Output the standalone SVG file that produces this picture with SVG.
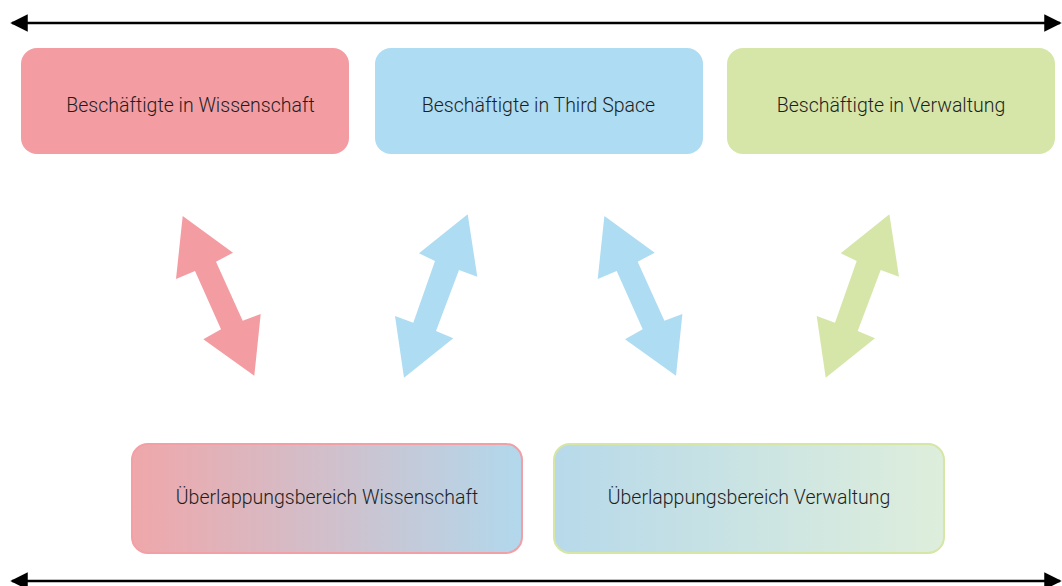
<svg xmlns="http://www.w3.org/2000/svg" width="1062" height="586" viewBox="0 0 1062 586">
<style>
.lbl{font-family:Roboto,"Liberation Sans",sans-serif;font-weight:300;font-size:19.5px;fill:#1e1e1e;text-anchor:middle;dominant-baseline:central}
.axis{stroke:#000;stroke-width:2.5;fill:none}
.pink{fill:#F39DA3}
.blue{fill:#AEDCF2}
.green{fill:#D6E6A8}
</style>
<defs>
<marker id="ah" viewBox="0 0 10 10" refX="9" refY="5" markerWidth="7" markerHeight="7.6" markerUnits="strokeWidth" orient="auto-start-reverse">
<path d="M0,0 L10,5 L0,10 Z" fill="#000"/>
</marker>
<linearGradient id="gW" x1="0" y1="0" x2="1" y2="0">
<stop offset="0" stop-color="#EFA7AA"/>
<stop offset="1" stop-color="#B2D8EC"/>
</linearGradient>
<linearGradient id="gV" x1="0" y1="0" x2="1" y2="0">
<stop offset="0" stop-color="#B7D9EA"/>
<stop offset="1" stop-color="#DEEEDC"/>
</linearGradient>
</defs>
<g id="axes">
<line class="axis" x1="12" y1="23" x2="1060" y2="23" marker-start="url(#ah)" marker-end="url(#ah)"/>
<line class="axis" x1="12" y1="581" x2="1060" y2="581" marker-start="url(#ah)" marker-end="url(#ah)"/>
</g>
<g id="node-wissenschaft">
<rect class="pink" x="21" y="48" width="328" height="106" rx="16"/>
<text class="lbl" x="190.5" y="105">Beschäftigte in Wissenschaft</text>
</g>
<g id="node-thirdspace">
<rect class="blue" x="375" y="48" width="328" height="106" rx="16"/>
<text class="lbl" x="538.5" y="105">Beschäftigte in Third Space</text>
</g>
<g id="node-verwaltung">
<rect class="green" x="727" y="48" width="328" height="106" rx="16"/>
<text class="lbl" x="891" y="105">Beschäftigte in Verwaltung</text>
</g>
<g id="node-ueb-wissenschaft">
<rect x="132" y="444" width="390" height="109" rx="16" fill="url(#gW)" stroke="#F29FA5" stroke-width="2"/>
<text class="lbl" x="327" y="497">Überlappungsbereich Wissenschaft</text>
</g>
<g id="node-ueb-verwaltung">
<rect x="554" y="444" width="390" height="109" rx="16" fill="url(#gV)" stroke="#D6E6A4" stroke-width="2"/>
<text class="lbl" x="749" y="497">Überlappungsbereich Verwaltung</text>
</g>
<g id="connectors">
<path class="pink" d="M182.7,216 L233,252.7 L216,261.7 L242.7,320.7 L260.7,314 L254.3,375.7 L203.3,339.3 L221,329.3 L195,271 L176,279 Z"/>
<path class="blue" d="M467.7,214.3 L477.3,276.7 L459,270 L436,331 L453.3,338.3 L404,377.7 L395,316 L413.3,322.7 L435,261 L419,253.3 Z"/>
<path class="blue" d="M604.4,216 L654.7,252.7 L637.7,261.7 L664.4,320.7 L682.4,314 L676,375.7 L625,339.3 L642.7,329.3 L616.7,271 L597.7,279 Z"/>
<path class="green" d="M889.4,214.3 L899,276.7 L880.7,270 L857.7,331 L875,338.3 L825.7,377.7 L816.7,316 L835,322.7 L856.7,261 L840.7,253.3 Z"/>
</g>
</svg>
